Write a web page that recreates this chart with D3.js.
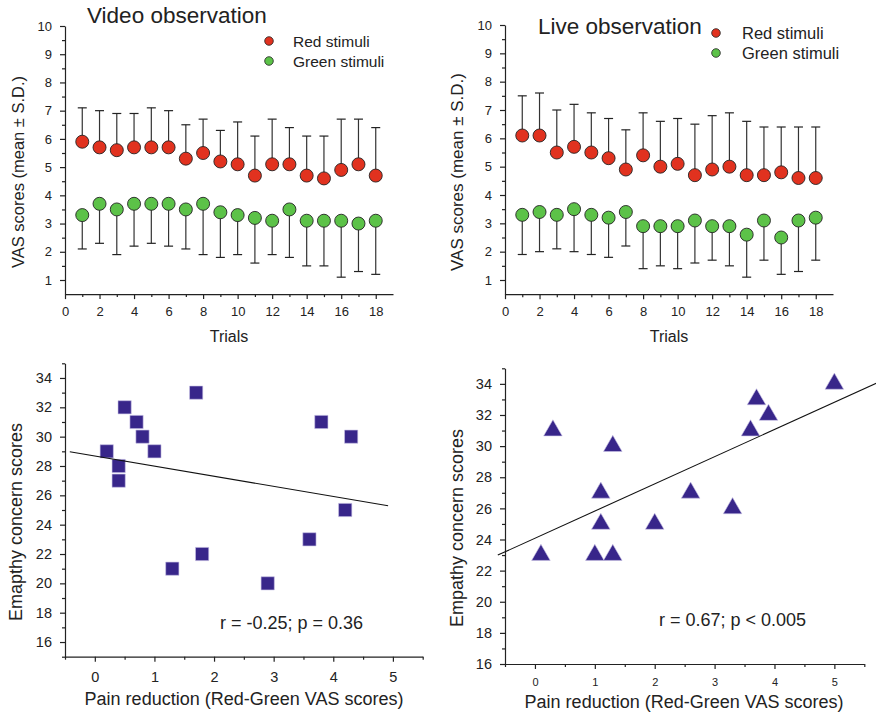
<!DOCTYPE html>
<html>
<head>
<meta charset="utf-8">
<script src="https://cdnjs.cloudflare.com/ajax/libs/d3/7.8.5/d3.min.js"></script>
<style>
  body { margin: 0; background: #fff; }
  svg { font-family: "Liberation Sans", Arial, sans-serif; }
  .ax path, .ax line { stroke: #222; stroke-width: 1.2; }
  .ax text { fill: #222; }
</style>
</head>
<body>
<div id="plot"></div>
<script>
var trials = d3.range(1, 19);

// video observation
var videoRed = [5.9, 5.7, 5.6, 5.7, 5.7, 5.7, 5.3, 5.5, 5.2, 5.1, 4.7, 5.1, 5.1, 4.7, 4.6, 4.9, 5.1, 4.7];
var videoRedTop = [7.1, 7.0, 6.9, 6.9, 7.1, 7.0, 6.5, 6.7, 6.3, 6.6, 6.1, 6.7, 6.4, 6.1, 6.1, 6.7, 6.7, 6.4];
var videoGreen = [3.3, 3.7, 3.5, 3.7, 3.7, 3.7, 3.5, 3.7, 3.4, 3.3, 3.2, 3.1, 3.5, 3.1, 3.1, 3.1, 3.0, 3.1];
var videoGreenBot = [2.1, 2.3, 1.9, 2.2, 2.3, 2.2, 2.1, 1.9, 1.8, 1.9, 1.6, 1.9, 1.8, 1.5, 1.5, 1.1, 1.3, 1.2];

// live observation
var liveRed = [6.1, 6.1, 5.5, 5.7, 5.5, 5.3, 4.9, 5.4, 5.0, 5.1, 4.7, 4.9, 5.0, 4.7, 4.7, 4.8, 4.6, 4.6];
var liveRedTop = [7.5, 7.6, 7.0, 7.2, 6.9, 6.7, 6.3, 6.9, 6.6, 6.7, 6.5, 6.8, 6.9, 6.6, 6.4, 6.4, 6.4, 6.4];
var liveGreen = [3.3, 3.4, 3.3, 3.5, 3.3, 3.2, 3.4, 2.9, 2.9, 2.9, 3.1, 2.9, 2.9, 2.6, 3.1, 2.5, 3.1, 3.2];
var liveGreenBot = [1.9, 2.0, 2.1, 2.0, 1.9, 1.8, 2.2, 1.4, 1.5, 1.4, 1.6, 1.7, 1.5, 1.1, 1.7, 1.2, 1.3, 1.7];

var vasTicks = d3.range(1, 11);
var vasMinor = d3.range(1.5, 10, 1);
var trialTicks = d3.range(0, 19, 2);
var trialMinor = d3.range(1, 19, 2);

// scatter: pain reduction vs empathy
var videoPain = [0.2, 0.4, 0.4, 0.5, 0.7, 0.8, 1.0, 1.7, 1.3, 1.8, 2.9, 3.6, 3.8, 4.2, 4.3];
var videoEmp = [29, 28, 27, 32, 31, 30, 29, 33, 21, 22, 20, 23, 31, 25, 30];
var videoFit = [28.68, -0.69];   // intercept, slope
var videoFitX = [-0.42, 4.92];

var livePain = [0.1, 0.3, 1.0, 1.1, 1.1, 1.3, 1.3, 2.0, 2.6, 3.3, 3.6, 3.7, 3.9, 5.0];
var liveEmp = [23, 31, 23, 27, 25, 23, 30, 25, 27, 26, 31, 33, 32, 34];
var liveFit = [24.08, 1.747];
var liveFitX = [-0.62, 5.7];

var empTicks = d3.range(16, 35, 2);
var empMinor = d3.range(15, 36, 2);
var painTicks = d3.range(0, 6);
var painMinor = d3.range(-0.5, 6, 1);

var redFill = "#e1321f", greenFill = "#5cc248", markFill = "#38268a";

var svg = d3.select("#plot").append("svg")
  .attr("width", 876).attr("height", 715);

function inside(sc) {
  var dm = sc.domain();
  return function(v) { return v >= dm[0] && v <= dm[1]; };
}

function axes(g, x, y, o) {
  g.append("g").attr("class", "ax")
    .attr("transform", "translate(0," + o.y0 + ")")
    .call(d3.axisBottom(x).tickValues(o.xt).tickSize(5).tickPadding(o.xpad).tickSizeOuter(0).tickFormat(d3.format("d")))
    .selectAll("text").style("font-size", o.xfs + "px");
  g.append("g").attr("class", "ax")
    .attr("transform", "translate(0," + o.y0 + ")")
    .call(d3.axisBottom(x).tickValues(o.xm.filter(inside(x))).tickSize(3).tickFormat(""))
    .select(".domain").remove();
  g.append("g").attr("class", "ax")
    .attr("transform", "translate(" + o.x0 + ",0)")
    .call(d3.axisLeft(y).tickValues(o.yt).tickSize(5).tickPadding(o.ypad).tickSizeOuter(0))
    .selectAll("text").style("font-size", o.yfs + "px");
  g.append("g").attr("class", "ax")
    .attr("transform", "translate(" + o.x0 + ",0)")
    .call(d3.axisLeft(y).tickValues(o.ym.filter(inside(y))).tickSize(3).tickFormat(""))
    .select(".domain").remove();
}

function vasPanel(opt) {
  var x = d3.scaleLinear().domain([0, 19]).range([opt.left, opt.right]);
  var y = d3.scaleLinear().domain([1, 10]).range([opt.y1, opt.y10]);
  var g = svg.append("g");
  var yAx = y.copy().domain([0.5, 10]).range([y(0.5), y(10)]);
  axes(g, x, yAx, { y0: y(0.5), x0: opt.left, xt: trialTicks, xm: trialMinor, yt: vasTicks, ym: vasMinor,
    xfs: 13, yfs: 13, xpad: 8, ypad: 8 });

  var red = trials.map(function(t, i) { return { t: t, m: opt.red[i], e: opt.redTop[i] }; });
  var green = trials.map(function(t, i) { return { t: t, m: opt.green[i], e: opt.greenBot[i] }; });

  [red, green].forEach(function(ds) {
    g.selectAll(null).data(ds).enter().append("line")
      .attr("x1", function(d) { return x(d.t); }).attr("x2", function(d) { return x(d.t); })
      .attr("y1", function(d) { return y(d.m); }).attr("y2", function(d) { return y(d.e); })
      .attr("stroke", "#333").attr("stroke-width", 1.2);
    g.selectAll(null).data(ds).enter().append("line")
      .attr("x1", function(d) { return x(d.t) - 4.5; }).attr("x2", function(d) { return x(d.t) + 4.5; })
      .attr("y1", function(d) { return y(d.e); }).attr("y2", function(d) { return y(d.e); })
      .attr("stroke", "#222").attr("stroke-width", 1.2);
  });
  g.selectAll(null).data(red).enter().append("circle")
    .attr("cx", function(d) { return x(d.t); }).attr("cy", function(d) { return y(d.m); })
    .attr("r", 6.5).attr("fill", redFill).attr("stroke", "#222").attr("stroke-width", 0.9);
  g.selectAll(null).data(green).enter().append("circle")
    .attr("cx", function(d) { return x(d.t); }).attr("cy", function(d) { return y(d.m); })
    .attr("r", 6.5).attr("fill", greenFill).attr("stroke", "#222").attr("stroke-width", 0.9);

  // title + legend
  g.append("text").attr("x", opt.tx).attr("y", opt.ty).style("font-size", "22.5px").attr("fill", "#222").text(opt.title);
  var leg = [["Red stimuli", redFill], ["Green stimuli", greenFill]];
  leg.forEach(function(l, i) {
    g.append("circle").attr("cx", opt.lx).attr("cy", opt.ly + i * 20).attr("r", 4.3)
      .attr("fill", l[1]).attr("stroke", "#222").attr("stroke-width", 0.8);
    g.append("text").attr("x", opt.lx + opt.lgap).attr("y", opt.ly + i * 20 + 5.5)
      .style("font-size", opt.lfs + "px").attr("fill", "#222").text(l[0]);
  });

  g.append("text").attr("x", opt.xlx).attr("y", 342).attr("text-anchor", "middle")
    .style("font-size", "16px").attr("fill", "#222").text("Trials");
  g.append("text").attr("transform", "translate(" + opt.ylx + ",172)rotate(-90)").attr("text-anchor", "middle")
    .style("font-size", opt.yfs + "px").attr("fill", "#222").text("VAS scores (mean \u00b1 S.D.)");
}

vasPanel({ left: 65, right: 393, y1: 280, y10: 26, red: videoRed, redTop: videoRedTop, green: videoGreen, greenBot: videoGreenBot,
  title: "Video observation", tx: 87, ty: 23, lx: 269, ly: 41, lgap: 24, lfs: 15.5, xlx: 229, ylx: 23.5, yfs: 16.5 });
vasPanel({ left: 505, right: 833, y1: 280, y10: 25, red: liveRed, redTop: liveRedTop, green: liveGreen, greenBot: liveGreenBot,
  title: "Live observation", tx: 538, ty: 34, lx: 716, ly: 33, lgap: 26, lfs: 16.5, xlx: 669, ylx: 463, yfs: 17 });

function scatterPanel(opt) {
  var x = d3.scaleLinear().domain([-0.5, 5.5]).range([opt.left, opt.right]);
  var y = d3.scaleLinear().domain([opt.ymin, 35]).range([opt.bottom, opt.top]);
  var g = svg.append("g");
  axes(g, x, y, { y0: opt.bottom, x0: opt.left, xt: painTicks, xm: painMinor, yt: empTicks, ym: empMinor,
    xfs: opt.xfs, yfs: 14.5, xpad: opt.xpad, ypad: 8 });

  var pts = opt.px.map(function(v, i) { return [v, opt.py[i]]; });
  g.selectAll(null).data(pts).enter().append("path")
    .attr("transform", function(d) { return "translate(" + x(d[0]) + "," + y(d[1]) + ")"; })
    .attr("d", d3.symbol().type(opt.shape).size(opt.size))
    .attr("fill", markFill).attr("stroke", "#c9c3e6").attr("stroke-width", 0.6);

  g.append("line")
    .attr("x1", x(opt.fx[0])).attr("y1", y(opt.fit[0] + opt.fit[1] * opt.fx[0]))
    .attr("x2", x(opt.fx[1])).attr("y2", y(opt.fit[0] + opt.fit[1] * opt.fx[1]))
    .attr("stroke", "#111").attr("stroke-width", 1.1);

  g.append("text").attr("x", opt.ax).attr("y", opt.ay).style("font-size", "18px").attr("fill", "#222").text(opt.note);
  g.append("text").attr("x", opt.xlx).attr("y", opt.xly).attr("text-anchor", "middle")
    .style("font-size", "18px").attr("fill", "#222").text("Pain reduction (Red-Green VAS scores)");
  g.append("text").attr("transform", "translate(" + opt.ylx + "," + opt.yly + ")rotate(-90)").attr("text-anchor", "middle")
    .style("font-size", "18px").attr("fill", "#222").text(opt.ytitle);
}

scatterPanel({ left: 65, right: 422.7, top: 363.3, bottom: 656.7, ymin: 15, px: videoPain, py: videoEmp,
  fit: videoFit, fx: videoFitX, shape: d3.symbolSquare, size: 175, xfs: 14.5, xpad: 10,
  note: "r = -0.25; p = 0.36", ax: 220, ay: 629, xlx: 244, xly: 705, ylx: 21.5, yly: 522, ytitle: "Emapthy concern scores" });
scatterPanel({ left: 505, right: 864.3, top: 368.3, bottom: 664, ymin: 16, px: livePain, py: liveEmp,
  fit: liveFit, fx: liveFitX, shape: d3.symbolTriangle, size: 150, xfs: 11, xpad: 9,
  note: "r = 0.67; p < 0.005", ax: 659, ay: 626, xlx: 684, xly: 708, ylx: 462.5, yly: 528, ytitle: "Empathy concern scores" });
</script>
</body>
</html>
